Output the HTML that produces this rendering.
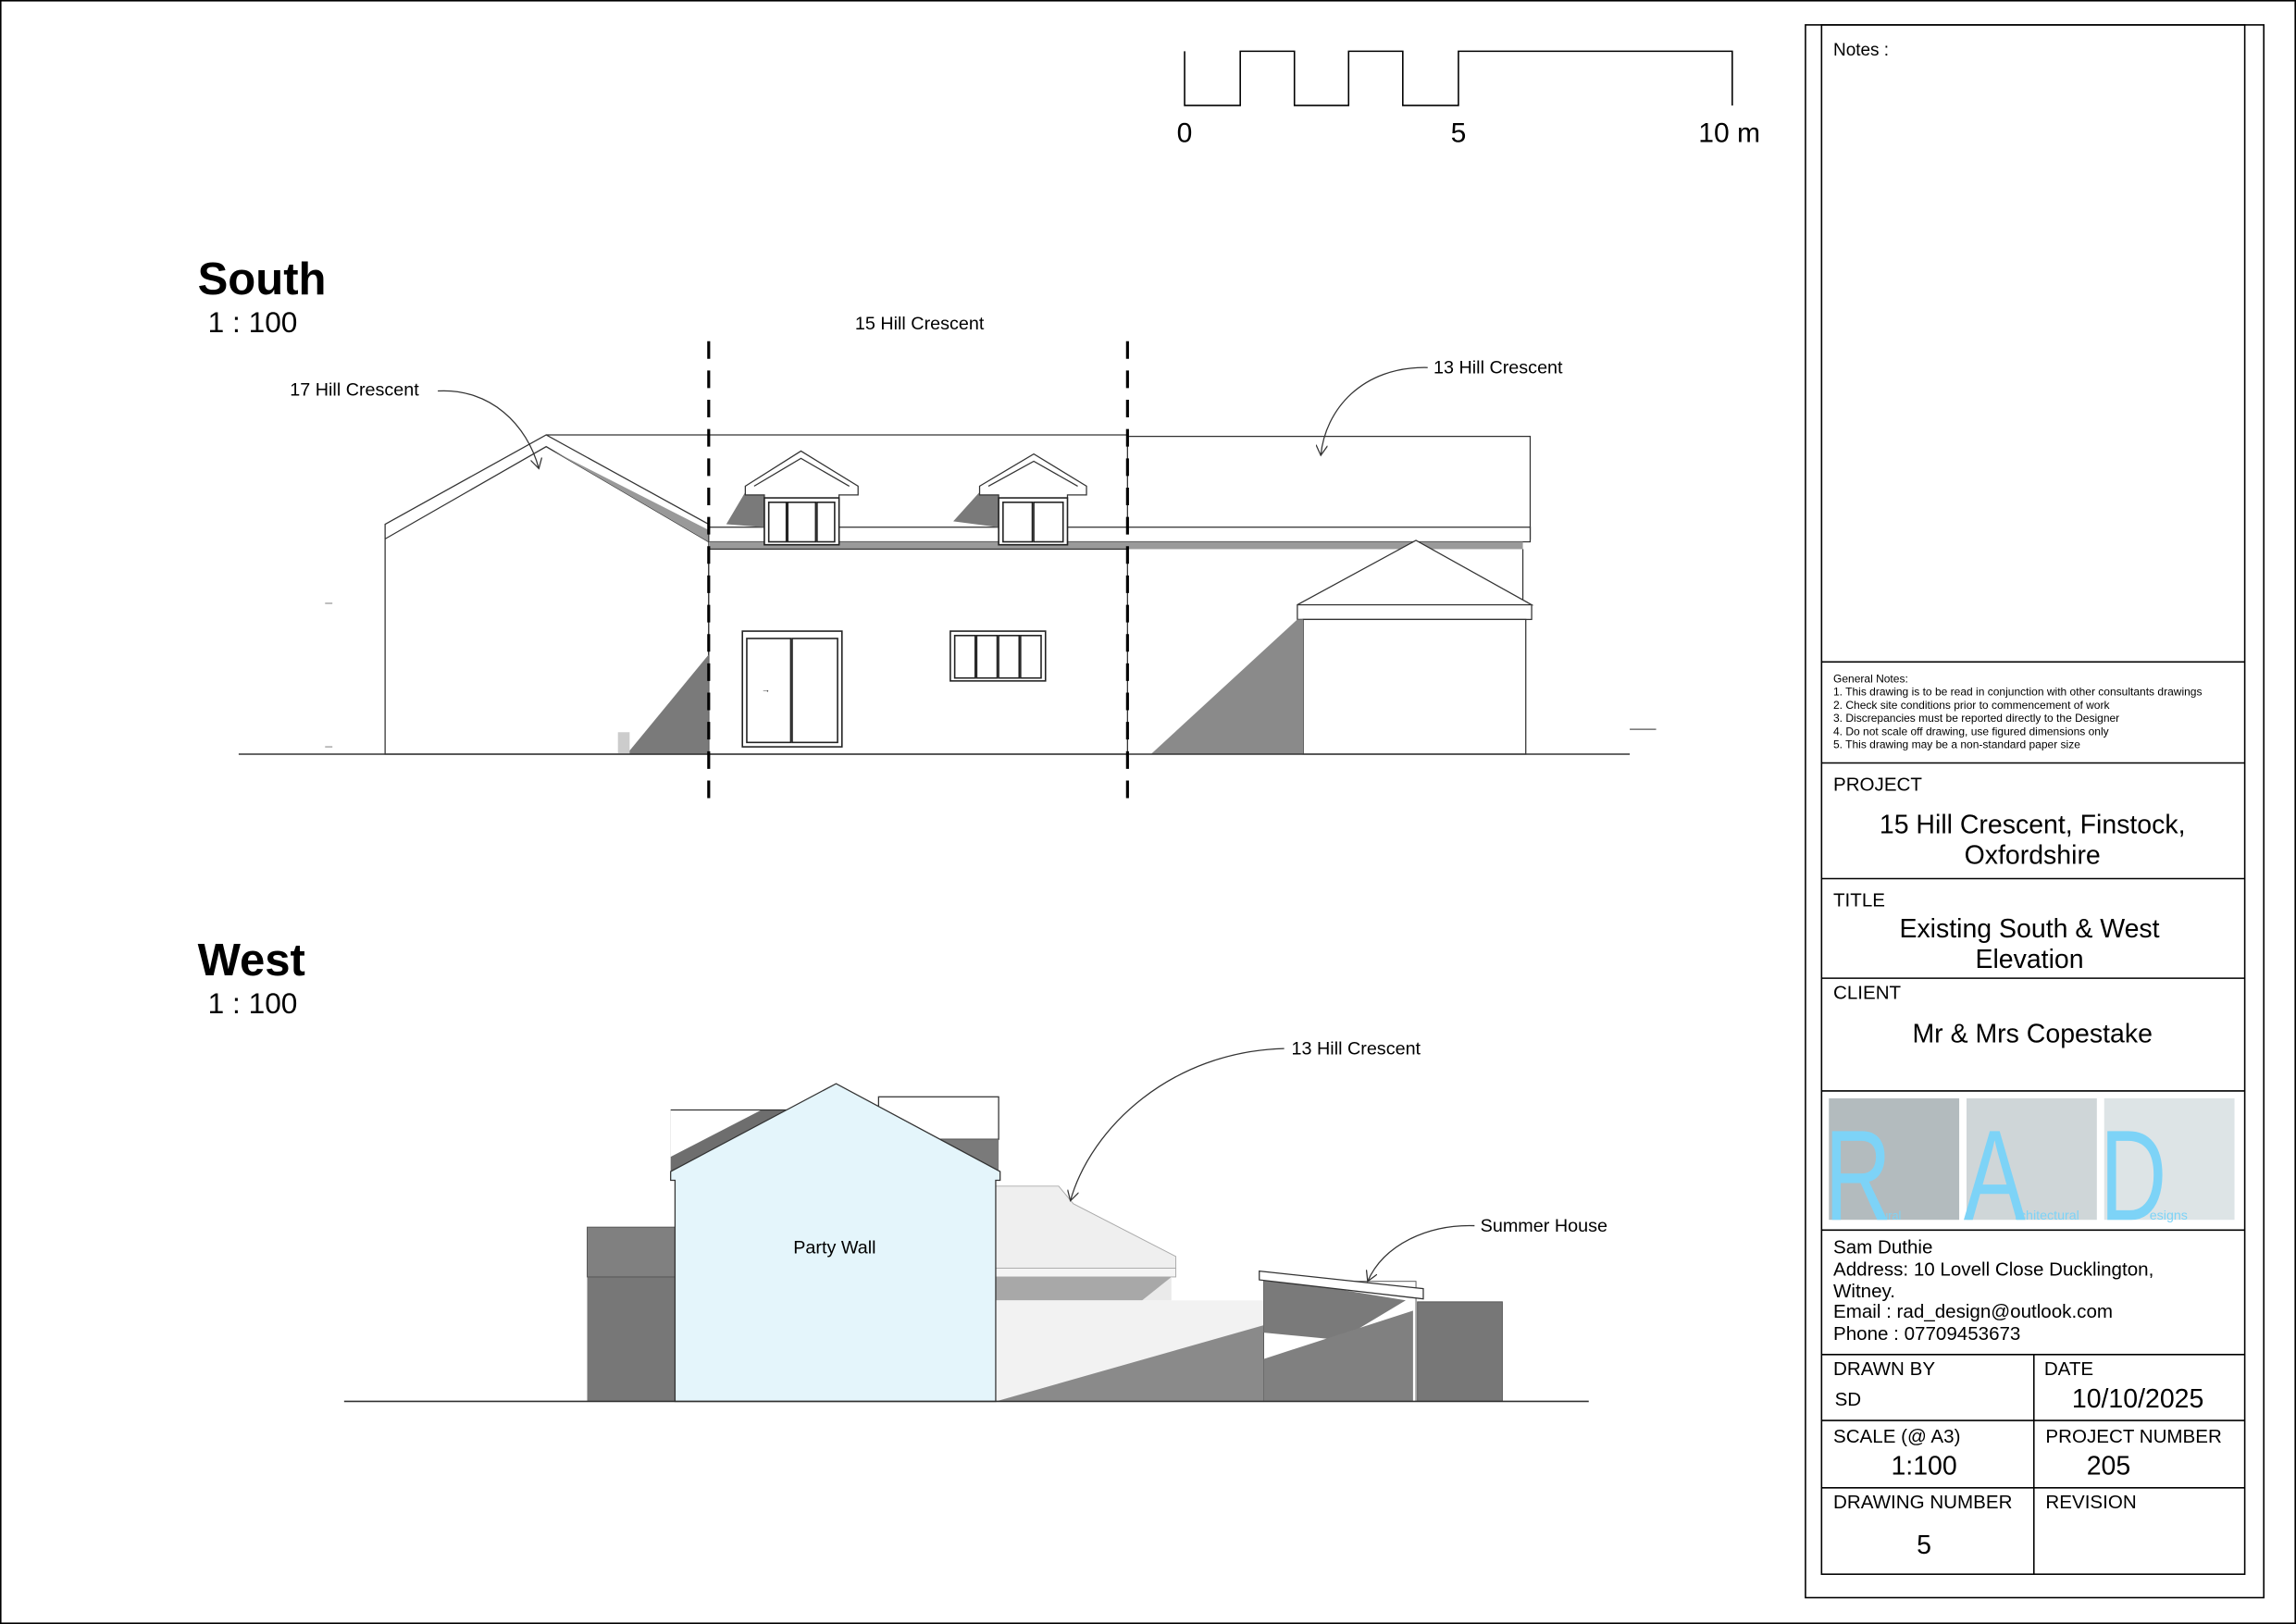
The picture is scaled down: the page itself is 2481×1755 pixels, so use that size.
<!DOCTYPE html>
<html><head><meta charset="utf-8"><style>
html,body{margin:0;padding:0;background:#fff;}
svg{display:block;}
text{font-family:"Liberation Sans",sans-serif;fill:#000;}
</style></head><body>
<svg width="2481" height="1755" viewBox="0 0 1568 1109" preserveAspectRatio="none" xmlns="http://www.w3.org/2000/svg">
<defs>
<marker id="ah" markerWidth="8" markerHeight="8" refX="7" refY="4" orient="auto" markerUnits="userSpaceOnUse"><path d="M0,0 L7,4 L0,8" fill="none" stroke="#333" stroke-width="0.8"/></marker>
</defs>
<rect x="0.5" y="0.5" width="1567" height="1108" fill="#fff" stroke="#000" stroke-width="1"/>

<g fill="none" stroke="#000" stroke-width="1">
<path d="M809,35 L809,72 L847,72 L847,35 L884,35 L884,72 L921,72 L921,35 L958,35 L958,72 L996,72 L996,35 L1183,35 L1183,72"/>
</g>
<text x="809" y="97" font-size="19" text-anchor="middle">0</text>
<text x="996" y="97" font-size="19" text-anchor="middle">5</text>
<text x="1181" y="97" font-size="19" text-anchor="middle">10 m</text>

<text x="135" y="201" font-size="31" font-weight="bold">South</text>
<text x="142" y="227" font-size="20">1 : 100</text>
<text x="135" y="666" font-size="31" font-weight="bold">West</text>
<text x="142" y="692" font-size="20">1 : 100</text>

<!-- SOUTH -->
<g stroke="#333" stroke-width="0.8" fill="#fff">
<rect x="770" y="298" width="275" height="70"/>
<path d="M373,297 L770,297" fill="none"/>
<polygon points="263,358 373,297 484,358 484,515 263,515" />
<path d="M263,368 L373,305 L484,370" fill="none"/>
<path d="M378,308 L484,370 L484,362 Z" fill="#999" stroke="none"/>
</g>
<rect x="484" y="360" width="561" height="10" fill="#fff" stroke="#333" stroke-width="0.8"/>
<rect x="484" y="370" width="556" height="5" fill="#9a9a9a"/>
<polygon points="509,336 522,336 522,360 496,358" fill="#7a7a7a"/>
<polygon points="669,336 682,336 682,360 651,356" fill="#7a7a7a"/>
<g stroke="#333" stroke-width="0.8" fill="#fff">
<polygon points="509,332 547,308 586,332 586,338 573,338 573,372 522,372 522,338 509,338"/>
<path d="M515,332 L547,313 L580,332" fill="none"/>
<polygon points="669,332 706,310 742,332 742,338 729,338 729,372 682,372 682,338 669,338"/>
<path d="M675,332 L706,315 L736,332" fill="none"/>
</g>
<g stroke="#222" stroke-width="1" fill="#fff">
<rect x="522" y="340" width="51" height="32"/>
<rect x="525" y="343" width="12" height="27"/><rect x="538" y="343" width="19" height="27"/><rect x="558" y="343" width="12" height="27"/>
<rect x="682" y="340" width="47" height="32"/>
<rect x="685" y="343" width="20" height="27"/><rect x="706" y="343" width="20" height="27"/>
</g>
<rect x="484" y="375" width="286" height="140" fill="#fff" stroke="#333" stroke-width="0.8"/>
<polygon points="484,447 484,515 428,515" fill="#7a7a7a"/>
<rect x="422" y="500" width="8" height="15" fill="#ccc"/>
<g stroke="#222" stroke-width="1" fill="#fff">
<rect x="507" y="431" width="68" height="79"/>
<rect x="510" y="436" width="30" height="71"/><rect x="541" y="436" width="31" height="71"/>
<rect x="649" y="431" width="65" height="34"/>
<rect x="652" y="434" width="14" height="29"/><rect x="667" y="434" width="14" height="29"/><rect x="682" y="434" width="14" height="29"/><rect x="697" y="434" width="14" height="29"/>
</g>
<text x="520" y="473" font-size="6">→</text>
<line x1="1040" y1="375" x2="1040" y2="413" stroke="#333" stroke-width="0.8"/>
<polygon points="886,413 967,369 1046,413" fill="#fff" stroke="#333" stroke-width="0.8"/>
<rect x="886" y="413" width="160" height="10" fill="#fff" stroke="#333" stroke-width="0.8"/>
<rect x="890" y="423" width="152" height="92" fill="#fff" stroke="#333" stroke-width="0.8"/>
<polygon points="886,423 890,423 890,515 786,515" fill="#8a8a8a"/>
<line x1="163" y1="515" x2="1113" y2="515" stroke="#333" stroke-width="1"/>
<line x1="1113" y1="498" x2="1131" y2="498" stroke="#555" stroke-width="0.8"/>
<line x1="222" y1="412" x2="227" y2="412" stroke="#999" stroke-width="0.8"/>
<line x1="222" y1="510" x2="227" y2="510" stroke="#999" stroke-width="0.8"/>
<line x1="484" y1="233" x2="484" y2="552" stroke="#000" stroke-width="2" stroke-dasharray="12,8"/>
<line x1="770" y1="233" x2="770" y2="552" stroke="#000" stroke-width="2" stroke-dasharray="12,8"/>
<text x="628" y="225" font-size="12.5" text-anchor="middle">15 Hill Crescent</text>
<text x="198" y="270" font-size="12.5">17 Hill Crescent</text>
<path d="M299,267 C335,265 360,290 368,320" fill="none" stroke="#333" stroke-width="0.8" marker-end="url(#ah)"/>
<text x="979" y="255" font-size="12.5">13 Hill Crescent</text>
<path d="M975,251 C930,250 905,280 902,311" fill="none" stroke="#333" stroke-width="0.8" marker-end="url(#ah)"/>

<!-- WEST -->
<rect x="458" y="758" width="100" height="48" fill="#6e6e6e"/>
<polygon points="458,758 520,758 458,790" fill="#fff"/>
<line x1="458" y1="758" x2="540" y2="758" stroke="#333" stroke-width="0.8"/>
<rect x="600" y="749" width="82" height="29" fill="#fff" stroke="#333" stroke-width="0.8"/>
<polygon points="640,778 682,778 682,800 660,800" fill="#7a7a7a"/>
<rect x="401" y="838" width="60" height="119" fill="#777"/>
<rect x="401" y="838" width="60" height="34" fill="#808080" stroke="#555" stroke-width="0.6"/>
<polygon points="680,810 723,810 733,822 803,858 803,866 680,866" fill="#efefef" stroke="#aaa" stroke-width="0.6"/>
<rect x="680" y="866" width="123" height="6" fill="#f4f4f4" stroke="#aaa" stroke-width="0.6"/>
<rect x="680" y="872" width="120" height="16" fill="#eaeaea"/>
<polygon points="680,872 800,872 780,888 680,888" fill="#a8a8a8"/>
<rect x="680" y="888" width="183" height="69" fill="#f2f2f2"/>
<polygon points="680,957 863,957 863,905" fill="#8a8a8a"/>
<rect x="863" y="875" width="104" height="82" fill="#fff" stroke="#555" stroke-width="0.6"/>
<polygon points="863,872 960,888 915,915 863,910" fill="#7a7a7a"/>
<polygon points="863,928 965,895 965,957 863,957" fill="#808080"/>
<polygon points="860,868 972,880 972,887 860,874" fill="#fff" stroke="#333" stroke-width="0.8"/>
<rect x="968" y="889" width="58" height="68" fill="#777" stroke="#555" stroke-width="0.6"/>
<polygon points="461,957 461,806 458,806 458,800 571,740 683,800 683,806 680,806 680,957" fill="#e4f5fb" stroke="#333" stroke-width="0.8"/>
<line x1="235" y1="957" x2="1085" y2="957" stroke="#333" stroke-width="1"/>
<text x="570" y="856" font-size="12.5" text-anchor="middle">Party Wall</text>
<text x="882" y="720" font-size="12.5">13 Hill Crescent</text>
<path d="M877,716 C800,718 745,770 731,820" fill="none" stroke="#333" stroke-width="0.8" marker-end="url(#ah)"/>
<text x="1011" y="841" font-size="12.5">Summer House</text>
<path d="M1007,837 C975,836 945,850 934,875" fill="none" stroke="#333" stroke-width="0.8" marker-end="url(#ah)"/>

<!-- TITLE BLOCK -->
<g fill="none" stroke="#000" stroke-width="1">
<rect x="1233" y="17" width="313" height="1074"/>
<rect x="1244" y="17" width="289" height="1058"/>
<line x1="1244" y1="452" x2="1533" y2="452"/>
<line x1="1244" y1="521" x2="1533" y2="521"/>
<line x1="1244" y1="600" x2="1533" y2="600"/>
<line x1="1244" y1="668" x2="1533" y2="668"/>
<line x1="1244" y1="745" x2="1533" y2="745"/>
<line x1="1244" y1="840" x2="1533" y2="840"/>
<line x1="1244" y1="925" x2="1533" y2="925"/>
<line x1="1244" y1="970" x2="1533" y2="970"/>
<line x1="1244" y1="1016" x2="1533" y2="1016"/>
<line x1="1389" y1="925" x2="1389" y2="1075"/>
</g>
<text x="1252" y="38" font-size="12">Notes :</text>
<g font-size="7.6">
<text x="1252" y="466">General Notes:</text>
<text x="1252" y="475">1. This drawing is to be read in conjunction with other consultants drawings</text>
<text x="1252" y="484">2. Check site conditions prior to commencement of work</text>
<text x="1252" y="493">3. Discrepancies must be reported directly to the Designer</text>
<text x="1252" y="502">4. Do not scale off drawing, use figured dimensions only</text>
<text x="1252" y="511">5. This drawing may be a non-standard paper size</text>
</g>
<text x="1252" y="540" font-size="13">PROJECT</text>
<text x="1388" y="569" font-size="18" text-anchor="middle">15 Hill Crescent, Finstock,</text>
<text x="1388" y="590" font-size="18" text-anchor="middle">Oxfordshire</text>
<text x="1252" y="619" font-size="13">TITLE</text>
<text x="1386" y="640" font-size="18" text-anchor="middle">Existing South &amp; West</text>
<text x="1386" y="661" font-size="18" text-anchor="middle">Elevation</text>
<text x="1252" y="682" font-size="13">CLIENT</text>
<text x="1388" y="712" font-size="18" text-anchor="middle">Mr &amp; Mrs Copestake</text>
<rect x="1249" y="750" width="89" height="83" fill="#b3bbbe"/>
<rect x="1343" y="750" width="89" height="83" fill="#cfd6d8"/>
<rect x="1437" y="750" width="89" height="83" fill="#dde4e6"/>
<g style="fill:#7dd3f7" font-size="88">
<text transform="translate(1246,833) scale(0.72,1)" x="0" y="0" style="fill:#7dd3f7">R</text>
<text transform="translate(1341,833) scale(0.72,1)" x="0" y="0" style="fill:#7dd3f7">A</text>
<text transform="translate(1434,833) scale(0.72,1)" x="0" y="0" style="fill:#7dd3f7">D</text>
</g>
<text x="1285" y="833" font-size="8" style="fill:#7dd3f7">ural</text>
<text x="1376" y="833" font-size="9" style="fill:#7dd3f7">rchitectural</text>
<text x="1468" y="833" font-size="9" style="fill:#7dd3f7">esigns</text>
<g font-size="13">
<text x="1252" y="856">Sam Duthie</text>
<text x="1252" y="871">Address: 10 Lovell Close Ducklington,</text>
<text x="1252" y="886">Witney.</text>
<text x="1252" y="900">Email : rad_design@outlook.com</text>
<text x="1252" y="915">Phone : 07709453673</text>
<text x="1252" y="939">DRAWN BY</text>
<text x="1253" y="960">SD</text>
<text x="1396" y="939">DATE</text>
<text x="1252" y="985">SCALE (@ A3)</text>
<text x="1397" y="985">PROJECT NUMBER</text>
<text x="1252" y="1030">DRAWING NUMBER</text>
<text x="1397" y="1030">REVISION</text>
</g>
<text x="1460" y="961" font-size="18" text-anchor="middle">10/10/2025</text>
<text x="1314" y="1007" font-size="18" text-anchor="middle">1:100</text>
<text x="1440" y="1007" font-size="18" text-anchor="middle">205</text>
<text x="1314" y="1061" font-size="18" text-anchor="middle">5</text>
</svg>
</body></html>
